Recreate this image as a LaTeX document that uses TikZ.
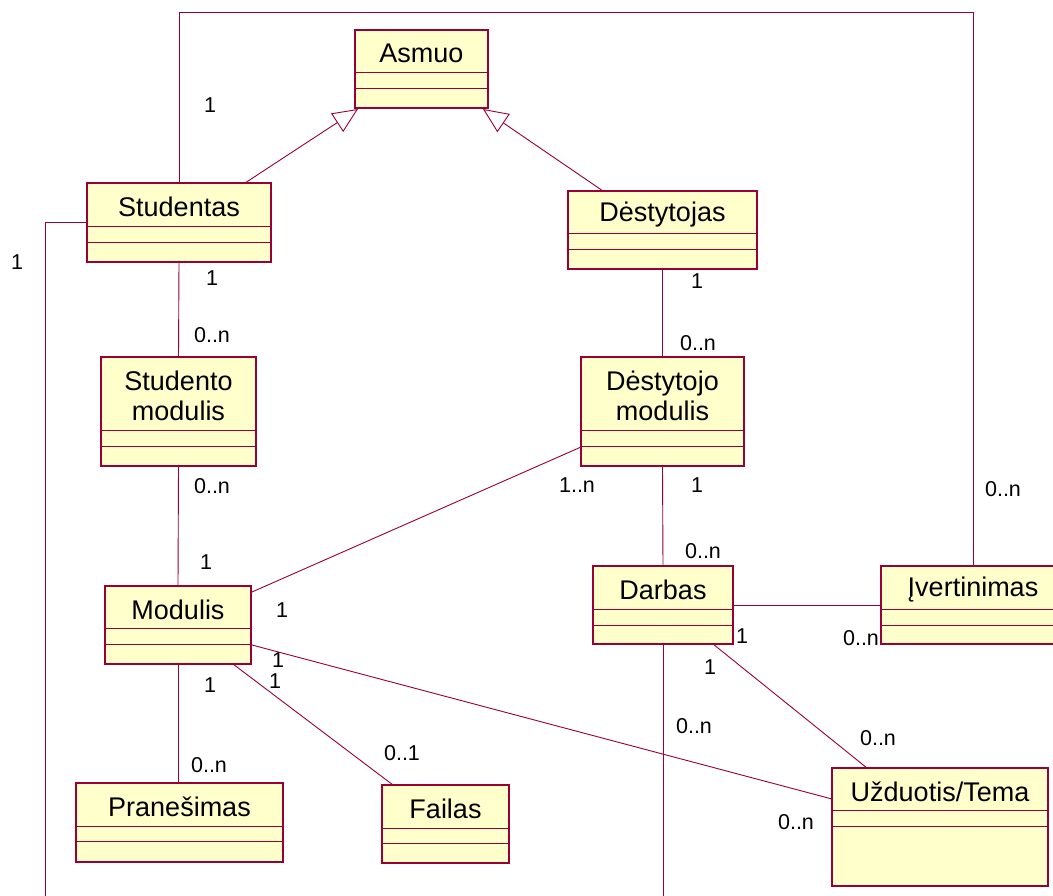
\documentclass[tikz,border=0pt]{standalone}
\usepackage{fontspec}
\setmainfont{Liberation Sans}
\usetikzlibrary{arrows.meta,calc}
\definecolor{rose}{HTML}{990033}
\definecolor{cream}{HTML}{FFFFCC}
% class box: name, x1, y1, x2, y2, first divider, second divider, title
\newcommand\umlbox[8]{%
  \node[cls, minimum width={#4-#2}, minimum height={#5-#3}] (#1) at (#2,#3) {};
  \draw[rose, line width=1pt] (#2,#6) -- (#4,#6) (#2,#7) -- (#4,#7);
  \node[title] (#1-t) at ({(#2+#4)/2},{(#3+#6)/2+2.5}) {#8};
}
\begin{document}
\begin{tikzpicture}[x=1pt,y=-1pt,
  cls/.style={draw=rose, fill=cream, line width=1.3pt, inner sep=0pt, outer sep=0pt, anchor=north west},
  assoc/.style={draw=rose, line width=0.9pt},
  gen/.style={assoc, -{Triangle[open,length=25pt,width=22pt]}},
  lbl/.style={font=\fontsize{21.5}{21.5}\selectfont, inner sep=0pt},
  title/.style={font=\fontsize{27}{30}\selectfont, align=center, inner sep=0pt}]
\useasboundingbox (0,0) rectangle (1053,895);
\fill[white] (0,0) rectangle (1053,895);
\clip (0,0) rectangle (1053,895);

% classes
\umlbox{asmuo}{355}{30}{488}{108}{72}{88}{Asmuo}
\umlbox{stud}{87}{183}{271}{262}{226}{242}{Studentas}
\umlbox{dest}{568}{191}{757}{269}{233}{249}{Dėstytojas}
\umlbox{smod}{101}{357}{256}{466}{430}{446}{Studento\\modulis}
\umlbox{dmod}{581}{357}{744}{466}{430}{446}{Dėstytojo\\modulis}
\umlbox{modulis}{105}{586}{251}{664}{628}{644}{Modulis}
\umlbox{darbas}{593}{566}{733}{644}{609}{625}{Darbas}
\umlbox{ivert}{881}{566}{1065}{644}{609}{625}{Įvertinimas}
\umlbox{pran}{76}{783}{283}{862}{826}{841}{Pranešimas}
\umlbox{failas}{382}{785}{509}{863}{828}{843}{Failas}
\umlbox{uzd}{832}{768}{1048}{886}{810}{826}{Užduotis/Tema}

% free ends and bends
\coordinate (topbend) at (973,12);
\coordinate (leftend) at (45,905);
\coordinate (darbend) at (664,905);

% generalizations
\draw[gen] ($(stud.north west)+(158,0)$) -- ($(asmuo.south west)+(3,1)$);
\draw[gen] ($(dest.north west)+(35,0)$) -- ($(asmuo.south east)+(-5,1)$);

% associations
\draw[assoc] (stud.north) |- (topbend) -- (ivert.north);
\draw[assoc] (stud.west) -| (leftend);
\draw[assoc] (stud.south) -- (smod.north);
\draw[assoc] (dest.south) -- (dmod.north);
\draw[assoc] (smod.south) -- (modulis.north);
\draw[assoc] (dmod.south) -- (darbas.north);
\draw[assoc] (modulis.south) -- (modulis.south |- pran.north);
\draw[assoc] ($(dmod.south west)+(0,-19)$) -- ($(modulis.north east)+(1,6)$);
\draw[assoc] ($(modulis.south east)+(-18,0)$) -- ($(failas.north west)+(11,0)$);
\draw[assoc] ($(modulis.south east)+(1,-19)$) -- ($(uzd.north west)+(0,31)$);
\draw[assoc] (darbas.east) -- (darbas.east -| ivert.west);
\draw[assoc] ($(darbas.south east)+(-20,0)$) -- ($(uzd.north west)+(35,0)$);
\draw[assoc] (darbas.south) -- (darbas.south |- darbend);

% multiplicities
\node[lbl] (m1) at (210,105) {1};
\node[lbl] (m2) at (17,262) {1};
\node[lbl] (m3) at (212,278) {1};
\node[lbl] (m4) at (212,335) {0..n};
\node[lbl] (m5) at (697,281) {1};
\node[lbl] (m6) at (698,343) {0..n};
\node[lbl] (m7) at (212,486) {0..n};
\node[lbl] (m8) at (577,485) {1..n};
\node[lbl] (m9) at (697,485) {1};
\node[lbl] (m10) at (1003,489) {0..n};
\node[lbl] (m11) at (206,562) {1};
\node[lbl] (m12) at (703,551) {0..n};
\node[lbl] (m13) at (282,610) {1};
\node[lbl] (m14) at (742,636) {1};
\node[lbl] (m15) at (861,638) {0..n};
\node[lbl] (m16) at (278,660) {1};
\node[lbl] (m17) at (710,667) {1};
\node[lbl] (m18) at (210,685) {1};
\node[lbl] (m19) at (275,681) {1};
\node[lbl] (m20) at (694,726) {0..n};
\node[lbl] (m21) at (878,738) {0..n};
\node[lbl] (m22) at (402,753) {0..1};
\node[lbl] (m23) at (209,765) {0..n};
\node[lbl] (m24) at (796,822) {0..n};
\end{tikzpicture}
\end{document}
